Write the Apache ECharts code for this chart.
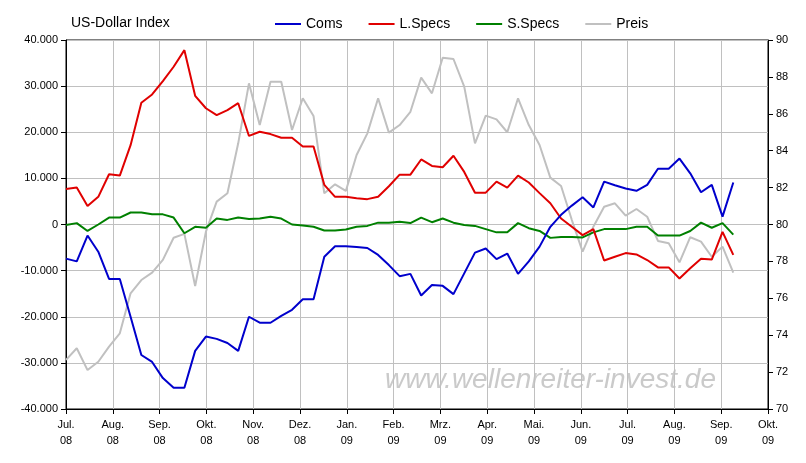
<!DOCTYPE html>
<html><head><meta charset="utf-8">
<script src="https://cdn.jsdelivr.net/npm/echarts@6/dist/echarts.min.js"></script>
<style>html,body{margin:0;padding:0;background:#fff}#c{width:806px;height:463px}</style>
</head><body><div id="c"></div>
<script>
const monthLabels=["Jul.\n08","Aug.\n08","Sep.\n08","Okt.\n08","Nov.\n08","Dez.\n08","Jan.\n09","Feb.\n09","Mrz.\n09","Apr.\n09","Mai.\n09","Jun.\n09","Jul.\n09","Aug.\n09","Sep.\n09","Okt.\n09"];
const coms=[-7400,-8000,-2400,-5900,-11800,-11800,-20000,-28300,-29800,-33300,-35400,-35400,-27400,-24300,-24800,-25700,-27400,-20000,-21300,-21300,-19800,-18500,-16200,-16200,-7000,-4700,-4700,-4900,-5100,-6600,-8800,-11200,-10700,-15400,-13100,-13300,-15100,-10600,-6100,-5200,-7500,-6300,-10700,-8000,-4800,-500,2100,4100,5900,3700,9300,8500,7800,7300,8600,12100,12100,14300,11100,7000,8600,1700,9100];
const lSpecs=[7700,8000,4000,6000,10900,10600,17200,26400,28200,31100,34200,37800,27900,25200,23700,24800,26300,19200,20100,19600,18800,18800,16900,16900,8600,6000,6000,5700,5500,6000,8300,10800,10800,14100,12700,12400,14900,11400,6900,6900,9300,8000,10600,9100,6800,4600,1300,-500,-2300,-1000,-7800,-7000,-6200,-6500,-7700,-9300,-9300,-11700,-9500,-7400,-7600,-1600,-6600];
const sSpecs=[-100,300,-1400,0,1500,1500,2600,2600,2200,2200,1500,-1900,-500,-700,1300,1000,1500,1200,1300,1700,1300,0,-200,-500,-1300,-1300,-1100,-500,-300,400,400,600,300,1500,500,1300,400,-100,-300,-1000,-1700,-1700,300,-800,-1400,-2900,-2700,-2700,-2800,-1700,-1000,-1000,-1000,-500,-500,-2400,-2400,-2400,-1400,400,-700,300,-2200];
const preis=[72.66,73.29,72.11,72.56,73.38,74.10,76.27,76.99,77.39,78.08,79.28,79.49,76.67,79.61,81.24,81.69,84.40,87.65,85.39,87.74,87.74,85.12,86.84,85.88,81.69,82.18,81.82,83.77,84.94,86.84,84.98,85.39,86.11,87.96,87.11,89.04,88.97,87.47,84.40,85.90,85.70,85.00,86.84,85.39,84.31,82.54,82.09,80.24,78.53,79.88,80.96,81.15,80.48,80.84,80.42,79.11,78.98,77.95,79.31,79.07,78.25,78.80,77.39];
// weekly observations starting at start of Jul 08; x in months
const toXY=arr=>arr.map((v,i)=>[i*12/52.18,v]);
const chart=echarts.init(document.getElementById('c'));
const fmt=v=>{const s=Math.abs(v).toString().replace(/\B(?=(\d{3})+(?!\d))/g,'.');return (v<0?'-':'')+s;};
const lbl={color:'#000',fontFamily:'Arial, Liberation Sans',fontSize:11};
const mk=(name,data,color,yi)=>({name,type:'line',data:toXY(data),yAxisIndex:yi,symbol:'none',lineStyle:{color,width:2},itemStyle:{color},animation:false});
chart.setOption({
  animation:false,
  title:{text:'US-Dollar Index',left:66,top:11,textStyle:{fontFamily:'Arial, Liberation Sans',fontSize:14,fontWeight:'normal',color:'#000'}},
  legend:{top:12,left:270,itemWidth:26,itemHeight:2,itemGap:26,icon:'rect',textStyle:{fontFamily:'Arial, Liberation Sans',fontSize:14,color:'#000'},data:['Coms','L.Specs','S.Specs','Preis']},
  grid:{left:66,right:38,top:40,bottom:54,show:true,borderColor:'#000',borderWidth:1},
  graphic:[{type:'text',left:385,top:366,z:0,style:{text:'www.wellenreiter-invest.de',font:'italic 28px Arial, Liberation Sans',fill:'rgba(150,150,150,0.5)'}}],
  xAxis:{type:'value',min:0,max:15,interval:1,axisLine:{onZero:false,lineStyle:{color:'#000'}},axisTick:{show:true,length:5,lineStyle:{color:'#000'}},splitLine:{show:true,lineStyle:{color:'#c0c0c0'}},axisLabel:Object.assign({},lbl,{formatter:v=>monthLabels[v],lineHeight:16,margin:8})},
  yAxis:[
    {type:'value',min:-40000,max:40000,interval:10000,axisLine:{show:true,onZero:false,lineStyle:{color:'#000'}},axisTick:{show:true,length:5,lineStyle:{color:'#000'}},splitLine:{lineStyle:{color:'#c0c0c0'}},axisLabel:Object.assign({},lbl,{formatter:fmt,margin:8})},
    {type:'value',min:70,max:90,interval:2,position:'right',axisLine:{show:true,onZero:false,lineStyle:{color:'#000'}},axisTick:{show:true,length:5,lineStyle:{color:'#000'}},splitLine:{show:false},axisLabel:Object.assign({},lbl,{margin:8})}
  ],
  series:[mk('Preis',preis,'#c0c0c0',1),mk('S.Specs',sSpecs,'#008000',0),mk('L.Specs',lSpecs,'#e00000',0),mk('Coms',coms,'#0000cc',0)]
});
</script></body></html>
